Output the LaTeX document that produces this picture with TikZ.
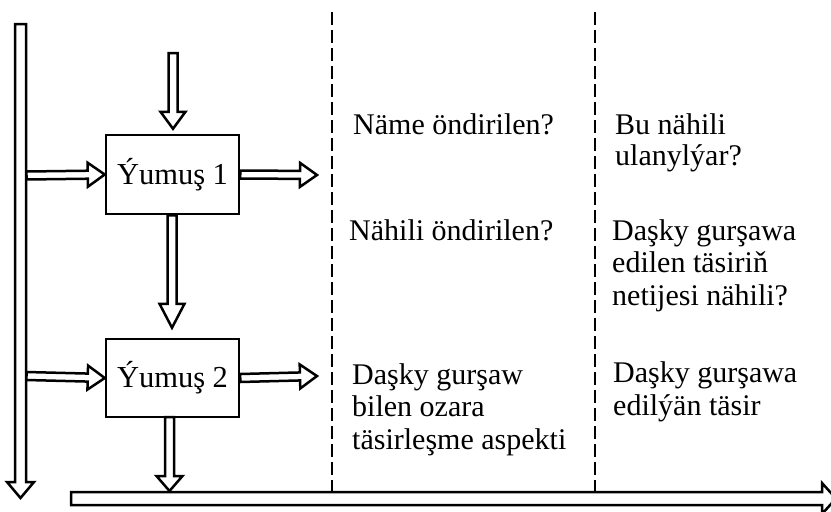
\documentclass[tikz,border=0pt]{standalone}
\usepackage{fontspec}
\setmainfont{Liberation Serif}
\usetikzlibrary{calc}
\tikzset{
  hollow/.style={draw=black, line width=2.5pt, fill=white},
  box/.style={draw=black, line width=2.5pt, fill=white, minimum width=133pt, minimum height=79pt, inner sep=0pt, font=\fontsize{30.5}{33}\selectfont},
  lbl/.style={anchor=base west, inner sep=0pt, align=left, font=\fontsize{30}{32.5}\selectfont},
  sepline/.style={line width=2.7pt, dash pattern=on 13pt off 5pt}
}
% #1 tail, #2 tip, #3 shaft half width, #4 head half width, #5 head length (numbers in pt)
\newcommand{\hollowarrow}[5]{%
  \draw[hollow] let \p1=#1, \p2=#2,
     \n1={veclen(\x2-\x1,\y2-\y1)}, \n2={atan2(\y2-\y1,\x2-\x1)} in
     [shift={(\x1,\y1)}, rotate=\n2]
     (0pt,{-#3pt}) -- ({\n1-#5pt},{-#3pt}) -- ({\n1-#5pt},{-#4pt}) -- ({\n1},0pt)
     -- ({\n1-#5pt},{#4pt}) -- ({\n1-#5pt},{#3pt}) -- (0pt,{#3pt}) -- cycle;%
}
\begin{document}
\begin{tikzpicture}[x=1pt,y=-1pt]
\useasboundingbox (0,0) rectangle (831,512);

% separators
\coordinate (s1top) at (332,12);
\coordinate (s1bot) at (332,492);
\coordinate (s2top) at (595,12);
\coordinate (s2bot) at (595,492);
\draw[sepline] (s1top) -- (s1bot);
\draw[sepline] (s2top) -- (s2bot);

% bars
\coordinate (vtop) at (20.5,24);
\coordinate (vend) at (20.5,498);
\coordinate (htail) at (71,498.5);
\coordinate (hend) at (836,498.5);
\hollowarrow{(vtop)}{(vend)}{5.5}{13.5}{16}
\hollowarrow{(htail)}{(hend)}{6.5}{15.5}{14}

% boxes
\node[box] (y1) at (172.5,174.5) {Ýumuş 1};
\node[box, minimum height=78pt] (y2) at (172.5,378) {Ýumuş 2};

% arrows
\coordinate (in1) at (173,53);
\coordinate (l1) at (26.5,175.5);
\coordinate (l2) at (26.5,376);
\coordinate (o1) at (317,175);
\coordinate (o2) at (317,376);
\coordinate (b2tail) at (169.5,417);
\coordinate (b2tip) at (169.5,491);
\hollowarrow{(in1)}{($(y1.north)+(0.5,-5)$)}{4.5}{12.5}{17}
\hollowarrow{(l1)}{(y1.west)}{4}{12}{17}
\hollowarrow{(y1.east)}{(o1)}{4}{12}{17}
\hollowarrow{($(y1.south)+(-0.5,0)$)}{($(y2.north)+(-0.5,-10)$)}{4.5}{12.5}{24}
\hollowarrow{(l2)}{(y2.west)}{4}{12}{17}
\hollowarrow{(y2.east)}{(o2)}{4}{12}{17}
\hollowarrow{(b2tail)}{(b2tip)}{4.5}{13}{15}

% labels (base anchor = baseline of last line)
\node[lbl] (q1) at (353,134) {Näme öndirilen?};
\node[lbl] (q2) at (349,240) {Nähili öndirilen?};
\node[lbl] (q3) at (352,449) {Daşky gurşaw\\bilen ozara\\täsirleşme aspekti};
\node[lbl, font=\fontsize{30}{31}\selectfont] (r1) at (615,165) {Bu nähili\\ulanylýar?};
\node[lbl] (r2) at (612,305) {Daşky gurşawa\\edilen täsiriň\\netijesi nähili?};
\node[lbl] (r3) at (613,415) {Daşky gurşawa\\edilýän täsir};
\end{tikzpicture}
\end{document}
